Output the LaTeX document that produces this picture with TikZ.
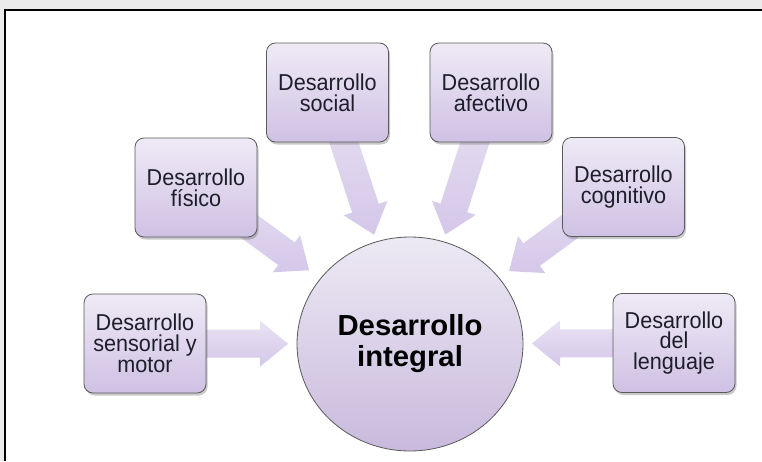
\documentclass[tikz,border=0pt]{standalone}
\usepackage{fontspec}
\setmainfont[FakeStretch=0.94]{Liberation Sans}
\newfontfamily\centerfont[FakeStretch=1.01]{Liberation Sans}
\usetikzlibrary{calc,shadows,shapes.geometric}
\definecolor{bggray}{HTML}{EBEBEB}
\definecolor{boxtop}{HTML}{EFEAF6}
\definecolor{boxbot}{HTML}{CFC1E4}
\definecolor{circtop}{HTML}{EDE9F4}
\definecolor{circbot}{HTML}{C9BADD}
\definecolor{arrtop}{HTML}{E9E2F3}
\definecolor{arrbot}{HTML}{D4C7E9}
\definecolor{edgec}{HTML}{5A5A5A}
\definecolor{textc}{HTML}{1E1E2A}
\pgfdeclarelayer{bgl}
\pgfdeclarelayer{arrowl}
\pgfsetlayers{bgl,arrowl,main}
\tikzset{
  devbox/.style={rectangle, rounded corners=9pt, draw=edgec, line width=0.8pt,
    top color=boxtop, bottom color=boxbot, minimum width=122pt, minimum height=99pt,
    align=center, text=textc, inner sep=2pt,
    font=\fontsize{23}{20.8}\selectfont,
    drop shadow={shadow xshift=1.5pt, shadow yshift=-2.5pt, opacity=0.35, fill=black!60}},
  hub/.style={ellipse, draw=edgec, line width=0.8pt, top color=circtop, bottom color=circbot,
    minimum width=226pt, minimum height=214pt, inner sep=0pt, align=center, text=black,
    font=\centerfont\bfseries\fontsize{29}{31}\selectfont},
  arrowshade/.style={top color=arrtop, bottom color=arrbot, draw=none}
}
\newcommand\fatarrow[2]{%
  \coordinate (T#1) at ($(c)!#2!(#1)$);
  \coordinate (H#1) at ($(T#1)!28pt!(#1)$);
  \shade[arrowshade] ($(#1)!14pt!90:(T#1)$) -- ($(H#1)!14pt!90:(T#1)$)
     -- ($(H#1)!23pt!90:(T#1)$) -- (T#1) -- ($(H#1)!23pt!-90:(T#1)$)
     -- ($(H#1)!14pt!-90:(T#1)$) -- ($(#1)!14pt!-90:(T#1)$) -- cycle;
}
\begin{document}
\begin{tikzpicture}[x=1pt, y=-1pt]
\useasboundingbox (0,0) rectangle (762,461);
\begin{pgfonlayer}{bgl}
  \fill[bggray] (0,0) rectangle (762,461);
  \fill[white] (5,10) rectangle (762,461);
  \draw[line width=2pt] (5,461) -- (5,10) -- (762,10);
\end{pgfonlayer}

\node[hub] (c) at (410,344) {Desarrollo\\integral};

\node[devbox] (s1) at (145,343.5) {Desarrollo\\sensorial y\\motor};
\node[devbox] (s2) at (196,187.5) {Desarrollo\\físico};
\node[devbox] (s3) at (327.5,92.5) {Desarrollo\\social};
\node[devbox] (s4) at (491,92.5) {Desarrollo\\afectivo};
\node[devbox] (s5) at (623.5,187) {Desarrollo\\cognitivo};
\node[devbox] (s6) at (674,343) {Desarrollo\\del\\lenguaje};

\begin{pgfonlayer}{arrowl}
  \fatarrow{s1}{122pt}
  \fatarrow{s2}{125pt}
  \fatarrow{s3}{115pt}
  \fatarrow{s4}{115pt}
  \fatarrow{s5}{123pt}
  \fatarrow{s6}{122pt}
\end{pgfonlayer}
\end{tikzpicture}
\end{document}
